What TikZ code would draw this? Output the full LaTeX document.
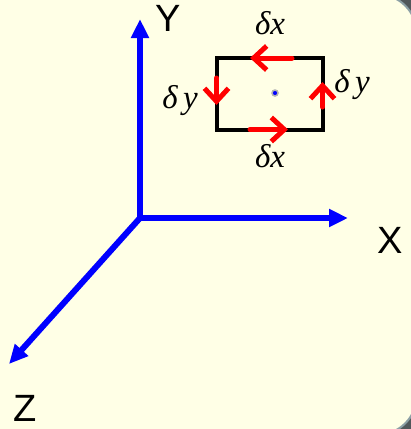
\documentclass[tikz,border=0pt]{standalone}
\usepackage{fontspec}
\setmainfont{Liberation Serif}
\newfontfamily\axisfont{Liberation Sans}
\usetikzlibrary{arrows.meta}
\definecolor{paper}{RGB}{255,255,230}
\definecolor{frame}{RGB}{80,87,90}
\definecolor{rim}{RGB}{140,160,165}
\tikzset{
  axis/.style={draw=blue, line width=6pt, -{Triangle[length=19pt, width=17pt]}},
  flow/.style={draw=red, line width=5pt, line cap=round, -{Straight Barb[length=13pt, width=24pt]}},
  axislabel/.style={font=\axisfont\fontsize{38}{40}\selectfont, inner sep=0pt},
  deltalabel/.style={font=\itshape\fontsize{33}{35}\selectfont, inner sep=0pt}
}
\begin{document}
\begin{tikzpicture}[x=1pt, y=-1pt]
    \useasboundingbox (0,0) rectangle (411,429);
    \fill[frame] (0,0) rectangle (411,429);
    \draw[fill=paper, draw=rim, line width=2pt, rounded corners=40pt] (-50,-6) rectangle (417,435);

    \coordinate (O) at (140,218);
    \coordinate (Ytip) at (140,19);
    \coordinate (Xtip) at (348,218);
    \coordinate (Ztip) at (9,364);
    \draw[axis] ([yshift=3pt]O) -- (Ytip);
    \draw[axis] ([xshift=-3pt]O) -- (Xtip);
    \draw[axis] (O) -- (Ztip);
    \node[axislabel] (Y) at (168,18) {Y};
    \node[axislabel] (X) at (390,240) {X};
    \node[axislabel] (Z) at (25,408) {Z};

    \draw[line width=4pt] (216.5,58) rectangle (322.5,129.5);
    \draw[fill=blue, draw=gray!60, line width=1.5pt] (275,93) circle (3pt);

    \coordinate (topA) at (292,58);   \coordinate (topB) at (250,58);
    \coordinate (botA) at (250,129.5); \coordinate (botB) at (288,129.5);
    \coordinate (lftA) at (216.5,78); \coordinate (lftB) at (216.5,105);
    \coordinate (rgtA) at (322.5,107); \coordinate (rgtB) at (322.5,82);
    \draw[flow] (topA) -- (topB);
    \draw[flow] (botA) -- (botB);
    \draw[flow] (lftA) -- (lftB);
    \draw[flow] (rgtA) -- (rgtB);

    \node[deltalabel] (dxtop) at (270,23) {δx};
    \node[deltalabel] (dxbot) at (270,156) {δx};
    \node[deltalabel] (dylft) at (180,101) {δ\,y};
    \node[deltalabel] (dyrgt) at (352,85) {δ\,y};
  \end{tikzpicture}
\end{document}
